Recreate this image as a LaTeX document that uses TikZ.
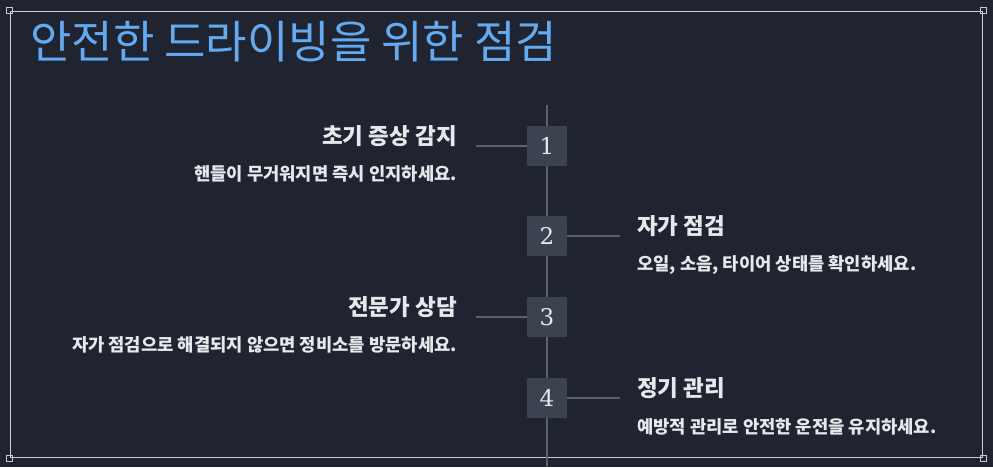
\documentclass[tikz,border=0pt]{standalone}
\usepackage{fontspec}
\setmainfont{Noto Sans CJK KR}
\newfontfamily\numf{DejaVu Serif}
\definecolor{bg}{HTML}{1F2430}
\definecolor{fr}{HTML}{C8CCD4}
\definecolor{bx}{HTML}{3C4350}
\definecolor{ln}{HTML}{5A606C}
\definecolor{tt}{HTML}{64AAF0}
\definecolor{tx}{HTML}{E6E8EC}
\begin{document}
\begin{tikzpicture}[x=1pt,y=-1pt,
  numbox/.style={fill=bx,rounded corners=1pt,minimum width=40pt,minimum height=40pt,inner sep=0,text=tx,font=\numf\fontsize{23}{26}\selectfont},
  conn/.style={draw=ln,line width=1.5pt},
  head/.style={text=tx,font=\fontsize{22.5}{26}\selectfont\bfseries,inner sep=0},
  sub/.style={text=tx,font=\fontsize{17.7}{20}\selectfont\bfseries,inner sep=0},
  corner/.style={draw=fr,line width=1pt,minimum size=6pt,inner sep=0}]
\fill[bg] (0,0) rectangle (993,467);
\useasboundingbox (0,0) rectangle (993,467);
\draw[fr,line width=1pt] (10,11) rectangle (982,457);
\node[corner] (c1) at (9,10) {};
\node[corner] (c2) at (983,10) {};
\node[corner] (c3) at (9,458) {};
\node[corner] (c4) at (983,458) {};
\node[anchor=west,text=tt,font=\fontsize{45}{50}\selectfont,inner sep=0] (title) at (30,42) {안전한 드라이빙을 위한 점검};
\coordinate (top) at (547,105);
\coordinate (bot) at (547,467);
\draw[conn] (top) -- (bot);
\node[numbox] (n1) at (547,146) {1};
\node[numbox] (n2) at (547,236) {2};
\node[numbox] (n3) at (547,317) {3};
\node[numbox] (n4) at (547,398) {4};
\coordinate (l1) at (476,146);
\coordinate (r2) at (620,236);
\coordinate (l3) at (476,317);
\coordinate (r4) at (620,398);
\draw[conn] (l1) -- (n1.west);
\draw[conn] (n2.east) -- (r2);
\draw[conn] (l3) -- (n3.west);
\draw[conn] (n4.east) -- (r4);
\node[head,anchor=east] (h1) at (457,136) {초기 증상 감지};
\node[sub,anchor=east] (s1) at (457,174) {핸들이 무거워지면 즉시 인지하세요.};
\node[head,anchor=west] (h2) at (637,226) {자가 점검};
\node[sub,anchor=west] (s2) at (637,265) {오일, 소음, 타이어 상태를 확인하세요.};
\node[head,anchor=east] (h3) at (457,307) {전문가 상담};
\node[sub,anchor=east] (s3) at (457,345) {자가 점검으로 해결되지 않으면 정비소를 방문하세요.};
\node[head,anchor=west] (h4) at (637,388) {정기 관리};
\node[sub,anchor=west] (s4) at (637,427) {예방적 관리로 안전한 운전을 유지하세요.};
\end{tikzpicture}
\end{document}
